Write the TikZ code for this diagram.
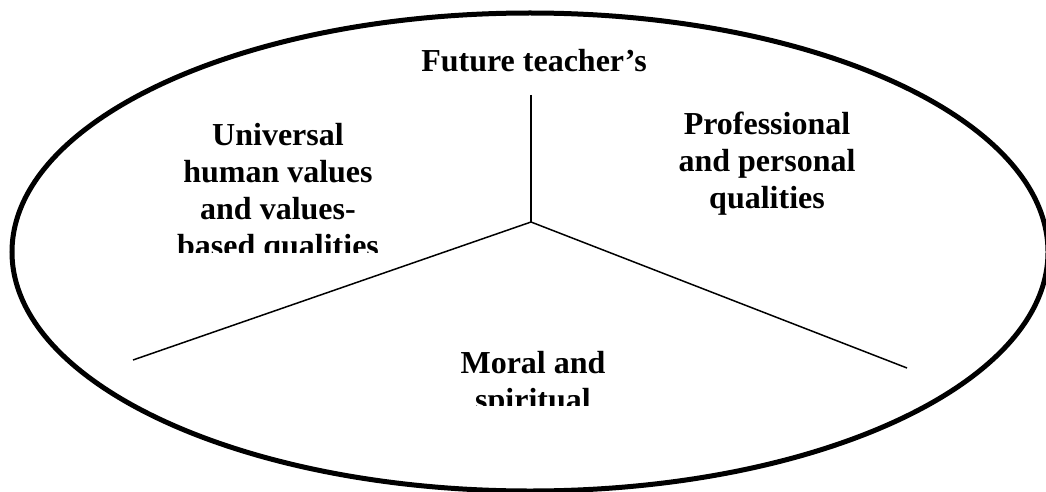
\documentclass[tikz,border=0pt]{standalone}
\usepackage{fontspec}
\setmainfont{Liberation Serif}
\usepackage{tikz}
\usetikzlibrary{positioning, calc}

\tikzset{
    blocktext/.style={align=center, anchor=base, inner sep=0pt, font=\bfseries\fontsize{32}{37}\selectfont},
    divider/.style={line width=1.5pt, black}
}

\begin{document}
\begin{tikzpicture}[x=1pt, y=-1pt]
    % Frame
    \useasboundingbox (0,0) rectangle (1046,492);
    \clip (0,0) rectangle (1046,492);
    \fill[white] (0,0) rectangle (1046,492);

    % Outer ellipse
    \draw[line width=5pt] (530,252) ellipse [x radius=518, y radius=239];

    % Dividers
    \coordinate (centre) at (531,222);
    \coordinate (topend) at (531,95);
    \coordinate (leftend) at (133,360);
    \coordinate (rightend) at (907,368);
    \draw[divider] (topend) -- (centre);
    \draw[divider] (centre) -- (leftend);
    \draw[divider] (centre) -- (rightend);

    % Labels (base = baseline of last line)
    \node[blocktext] (title) at (534,72) {Future teacher’s};
    \node[blocktext] (professional) at (767,208) {Professional\\and personal\\qualities};

    \begin{scope}
        \clip (0,0) rectangle (1046,252);
        \node[blocktext] (universal) at (278,256) {Universal\\human values\\and values-\\based qualities};
    \end{scope}

    \begin{scope}
        \clip (0,0) rectangle (1046,405);
        \node[blocktext] (moral) at (533,410) {Moral and\\spiritual};
    \end{scope}
\end{tikzpicture}
\end{document}
